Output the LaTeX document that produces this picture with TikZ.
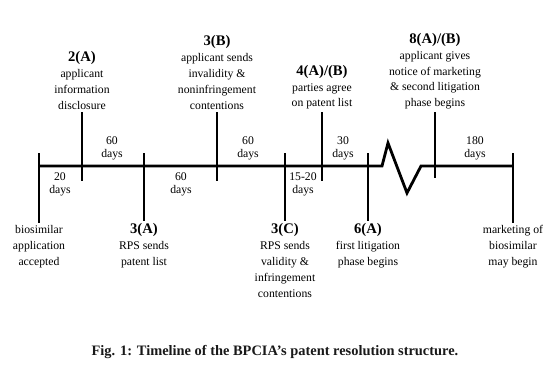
\documentclass[tikz,border=0pt]{standalone}
\usepackage{fontspec}
\setmainfont{Liberation Serif}
\usepackage{tikz}
\usetikzlibrary{positioning}
\newcommand{\evhead}[1]{{\fontsize{12.5}{13}\selectfont\bfseries #1}}

\begin{document}
\begin{tikzpicture}[x=1cm,y=1cm,
  event/.style={font=\fontsize{10}{13.6}\selectfont,align=center,inner sep=2pt},
  evtop/.style={event,anchor=south},
  evbot/.style={event,anchor=north},
  span/.style={font=\fontsize{10}{11}\selectfont,align=center,inner sep=0pt},
  axis/.style={line width=2.4pt,line join=miter},
  tick/.style={line width=1.5pt}]

\path[use as bounding box,fill=white] (0,0) rectangle (16.5,-11.1);
% main time axis with the break
\coordinate (t0) at (1.17,-4.98);
\coordinate (t1) at (15.39,-4.98);
\draw[axis] (t0)--(11.46,-4.98)--(11.64,-4.29)--(12.21,-5.79)--(12.63,-4.98)--(t1);

% events above the axis
\node[evtop] (disc) at (2.46,-3.36) {\evhead{2(A)}\\applicant\\information\\disclosure};
\node[evtop] (inval) at (6.51,-3.36) {\evhead{3(B)}\\applicant sends\\invalidity \&\\noninfringement\\contentions};
\node[evtop] (agree) at (9.66,-3.36) {\evhead{4(A)/(B)}\\parties agree\\on patent list};
\node[evtop] (notice) at (13.05,-3.36) {\evhead{8(A)/(B)}\\applicant gives\\notice of marketing\\\& second litigation\\phase begins};
\coordinate (disc-b) at (2.46,-5.43);
\coordinate (inval-b) at (6.51,-5.43);
\coordinate (agree-b) at (9.66,-5.43);
\coordinate (notice-b) at (13.05,-5.34);
\draw[tick] (disc.south)--(disc-b);
\draw[tick] (inval.south)--(inval-b);
\draw[tick] (agree.south)--(agree-b);
\draw[tick] (notice.south)--(notice-b);

% events below the axis
\node[evbot] (accept) at (1.17,-6.69) {biosimilar\\application\\accepted};
\node[evbot] (plist) at (4.32,-6.63) {\evhead{3(A)}\\RPS sends\\patent list};
\node[evbot] (valid) at (8.55,-6.63) {\evhead{3(C)}\\RPS sends\\validity \&\\infringement\\contentions};
\node[evbot] (litig) at (11.04,-6.63) {\evhead{6(A)}\\first litigation\\phase begins};
\node[evbot] (market) at (15.39,-6.69) {marketing of\\biosimilar\\may begin};
\coordinate (accept-t) at (1.17,-4.59);
\coordinate (plist-t) at (4.32,-4.59);
\coordinate (valid-t) at (8.55,-4.59);
\coordinate (litig-t) at (11.04,-4.59);
\coordinate (market-t) at (15.39,-4.59);
\draw[tick] (accept-t)--(accept.north);
\draw[tick] (plist-t)--(plist.north);
\draw[tick] (valid-t)--(valid.north);
\draw[tick] (litig-t)--(litig.north);
\draw[tick] (market-t)--(market.north);

% durations
\foreach \xx/\yy/\lab/\nm in {1.8/-5.52/20/d1,3.36/-4.44/60/d2,5.43/-5.52/60/d3,7.44/-4.44/60/d4,9.09/-5.52/15-20/d5,10.29/-4.44/30/d6,14.25/-4.44/180/d7}
  \node[span] (\nm) at (\xx,\yy) {\lab\\days};

\node[font=\fontsize{12.3}{14}\selectfont\bfseries,text=black!90] (cap) at (8.25,-10.56)
  {Fig. 1: Timeline of the BPCIA’s patent resolution structure.};

\end{tikzpicture}
\end{document}
